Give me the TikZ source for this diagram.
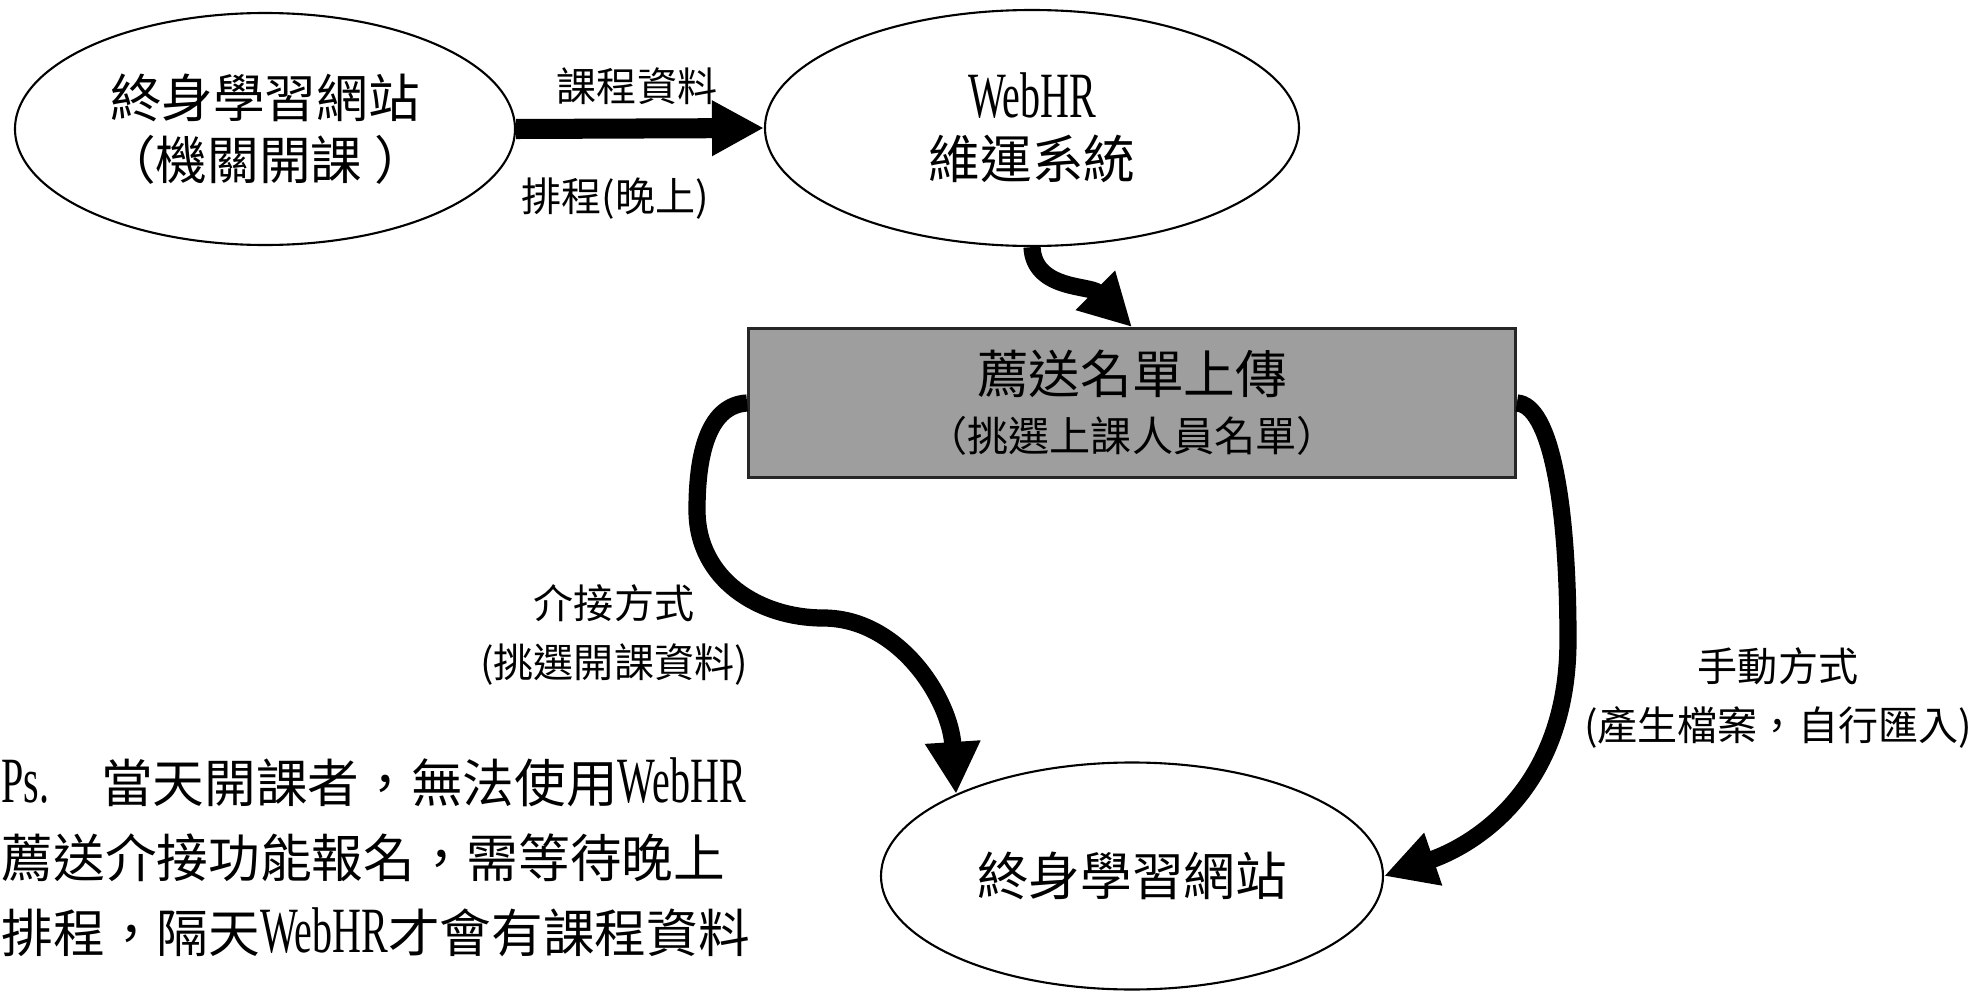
\documentclass[tikz,border=0pt]{standalone}
\usepackage{fontspec}
\setmainfont{Noto Sans CJK TC}
\newfontfamily\latnfont[Scale=1.25,FakeStretch=0.62]{Liberation Serif}
\newcommand{\Latn}[1]{{\latnfont #1}}
\usetikzlibrary{shapes.geometric,arrows.meta}
\definecolor{boxgray}{RGB}{158,158,158}
\tikzset{
  site/.style={ellipse, draw, line width=0.6pt, inner sep=0pt, align=center,
    font=\fontsize{14.7}{17.5}\selectfont},
  uploadbox/.style={rectangle, draw=black!85, line width=0.8pt, fill=boxgray,
    inner sep=0pt, align=center, font=\fontsize{14.7}{16.5}\selectfont},
  flowlabel/.style={inner sep=0pt, align=center, font=\fontsize{11.4}{17}\selectfont},
  fat/.style={line width=4.9pt, -{Triangle[length=5.2mm,width=5.2mm]}},
}
\begin{document}
\begin{tikzpicture}[x=0.1mm,y=-0.1mm]
\useasboundingbox (0,0) rectangle (1977,995);

\node[site, minimum width=50mm, minimum height=23.2mm] (course) at (265,129) {終身學習網站\\（機關開課 ）};
\node[site, minimum width=53.4mm, minimum height=23.6mm] (webhr) at (1032,128) {\Latn{WebHR}\\維運系統};
\node[uploadbox, minimum width=76.7mm, minimum height=14.9mm] (upload) at (1132,403) {薦送名單上傳\\{\fontsize{11.7}{16.5}\selectfont （挑選上課人員名單）}};
\node[site, minimum width=50.2mm, minimum height=22.7mm] (learn) at (1132,876) {終身學習網站};

\node[flowlabel] (lbldata) at (637,86) {課程資料};
\node[flowlabel] (lblsched) at (615,199) {排程(晚上)};
\node[flowlabel] (lblauto) at (614,635) {介接方式\\(挑選開課資料)};
\node[flowlabel] (lblmanual) at (1778,698) {手動方式\\(產生檔案，自行匯入)};

\node[anchor=west, align=left, inner sep=0pt, font=\fontsize{14.7}{21.3}\selectfont] (psnote) at (1,857)
  {\Latn{Ps.}\quad 當天開課者，無法使用\Latn{WebHR}\\薦送介接功能報名，需等待晚上\\排程，隔天\Latn{WebHR}才會有課程資料};

\draw[fat, line width=5.7pt] (course.east) -- (webhr.west);% nightly schedule
\draw[fat] (webhr.south) .. controls (1034,290) and (1090,285) .. (upload.north);
\draw[fat] (upload.west) .. controls (710,405) and (697,450) .. (697,510)
  .. controls (697,580) and (760,618) .. (823,618)
  .. controls (900,618) and (950,700) .. (learn.155);% interface
\draw[fat] (upload.east) .. controls (1550,405) and (1568,500) .. (1568,640)
  .. controls (1568,800) and (1460,850) .. (learn.east);% manual
\end{tikzpicture}
\end{document}
